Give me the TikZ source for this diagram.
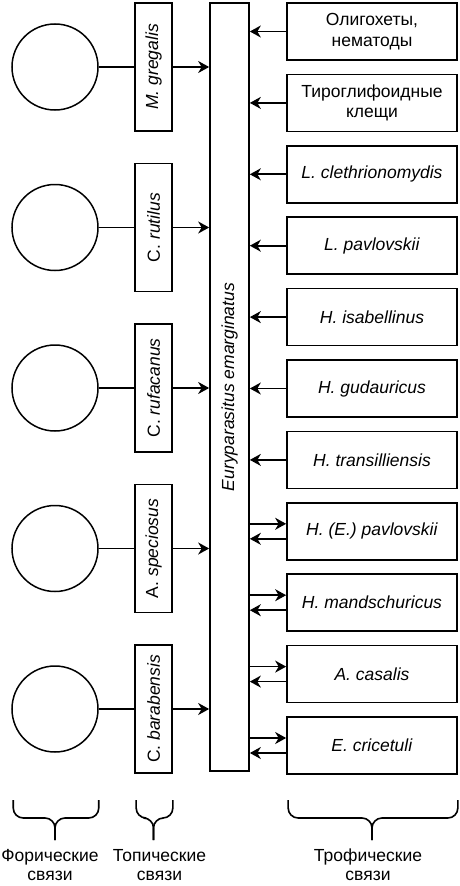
\documentclass[tikz,border=0pt]{standalone}
\usepackage{fontspec}
\setmainfont{Liberation Sans}
\usetikzlibrary{arrows.meta,positioning,calc}
\tikzset{
  host/.style={circle,draw,line width=1.5pt,minimum size=86pt,inner sep=0pt},
  topb/.style={draw,line width=1.7pt,minimum width=37pt,minimum height=128pt,inner sep=0pt,font=\fontsize{17.5}{20.5}\selectfont},
  mainb/.style={draw,line width=1.7pt,minimum width=39pt,minimum height=768pt,inner sep=0pt,font=\fontsize{17.5}{20.5}\selectfont},
  trob/.style={draw,line width=1.7pt,minimum width=170pt,minimum height=57pt,inner sep=0pt,align=center,font=\fontsize{17.5}{20.5}\selectfont},
  ln/.style={line width=1.7pt},
  arr/.style={-{Stealth[length=11pt,width=12pt,inset=3.5pt]},line width=1.7pt},
  brc/.style={line width=1.6pt,rounded corners=10pt},
  lbl/.style={align=center,inner sep=0pt,font=\fontsize{17.5}{19}\selectfont},
}
\begin{document}
\begin{tikzpicture}[x=1pt,y=1pt,node distance=12.7pt]
  \useasboundingbox (0,0) rectangle (460,-886);
  % the mite
  \node[mainb] (eu) at (229.5,-387) {\rotatebox{90}{\textit{Euryparasitus emarginatus}}};
  % hosts (topical links)
  \node[topb] (t1) at (153.5,-67) {\rotatebox{90}{\textit{M. gregalis}}};
  \node[topb,below=30.8pt of t1] (t2) {\rotatebox{90}{C. \textit{rutilus}}};
  \node[topb,below=30.8pt of t2] (t3) {\rotatebox{90}{C. \textit{rufacanus}}};
  \node[topb,below=30.8pt of t3] (t4) {\rotatebox{90}{A. \textit{speciosus}}};
  \node[topb,below=30.8pt of t4] (t5) {\rotatebox{90}{C. \textit{barabensis}}};
  \foreach \i in {1,...,5} {
    \node[host,left=35.4pt of t\i] (c\i) {};
    \draw[ln] (c\i) -- (t\i);
    \draw[arr] (t\i) -- (t\i -| eu.west);
  }
  % prey (trophic links)
  \node[trob] (r1) at (372,-31.5) {Олигохеты,\\нематоды};
  \node[trob,below=of r1] (r2) {Тироглифоидные\\клещи};
  \node[trob,below=of r2] (r3) {\textit{L. clethrionomydis}};
  \node[trob,below=of r3] (r4) {\textit{L. pavlovskii}};
  \node[trob,below=of r4] (r5) {\textit{H. isabellinus}};
  \node[trob,below=of r5] (r6) {\textit{H. gudauricus}};
  \node[trob,below=of r6] (r7) {\textit{H. transilliensis}};
  \node[trob,below=of r7] (r8) {\textit{H. (E.) pavlovskii}};
  \node[trob,below=of r8] (r9) {\textit{H. mandschuricus}};
  \node[trob,below=of r9] (r10) {\textit{A. casalis}};
  \node[trob,below=of r10] (r11) {\textit{E. cricetuli}};
  \foreach \i in {1,...,7} \draw[arr] (r\i) -- (r\i -| eu.east);
  \foreach \i in {8,...,11} {
    \draw[arr] ($(r\i.west -| eu.east)+(0,7.5)$) -- ($(r\i.west)+(0,7.5)$);
    \draw[arr] ($(r\i.west)+(0,-7.5)$) -- ($(r\i.west -| eu.east)+(0,-7.5)$);
  }
  % braces
  \coordinate (bt) at (0,-800);
  \foreach \a/\b/\n in {c5.west/c5.east/1,t5.west/t5.east/2,r11.west/r11.east/3} {
    \coordinate (m\n) at ($(\a |- bt)!.5!(\b |- bt)+(0,-18)$);
    \coordinate (k\n) at ($(m\n)+(0,-22)$);
    \draw[brc] ($(\a |- bt)+(2,0)$) |- (m\n) -- (k\n);
    \draw[brc] (\b |- bt) |- (m\n) -- (k\n);
  }
  \node[lbl,below=9pt of k1,xshift=-5pt] (lf) {Форические\\связи};
  \node[lbl,below=9pt of k2,xshift=6pt] (lt) {Топические\\связи};
  \node[lbl,below=9pt of k3,xshift=-4pt] (lr) {Трофические\\связи};
\end{tikzpicture}
\end{document}
